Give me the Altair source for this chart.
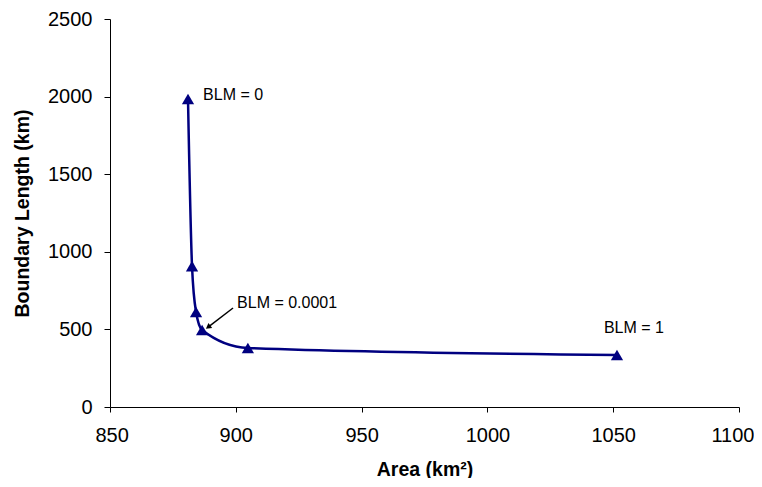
import altair as alt
import pandas as pd

area = [881.0, 882.6, 884.2, 886.6, 904.8, 1051.5]
boundary = [1985, 908, 612, 496, 380, 335]

label_text = ["BLM = 0", "BLM = 0.0001", "BLM = 1"]
label_x = [887.0, 900.5, 1046.3]
label_y = [2010, 670, 509]

arrow_x = [898.9]
arrow_y = [638]
arrow_x2 = [889.0]
arrow_y2 = [515]

df = pd.DataFrame({"area": area, "boundary": boundary})
lab = pd.DataFrame({"t": label_text, "x": label_x, "y": label_y})
arr = pd.DataFrame({"x": arrow_x, "y": arrow_y, "x2": arrow_x2, "y2": arrow_y2})

NAVY = "#000080"
xs = alt.Scale(domain=[850, 1100], nice=False, zero=False)
ys = alt.Scale(domain=[0, 2500], nice=False)

xaxis = alt.Axis(values=[850, 900, 950, 1000, 1050, 1100], grid=False, format="d",
                 title="Area (km²)", labelFontSize=20, titleFontSize=19.5,
                 titleFontWeight="bold", labelPadding=13, tickSize=5,
                 titleY=62, titleBaseline="middle",
                 domainColor="black", tickColor="black",
                 labelColor="black", titleColor="black",
                 labelFlush=True, labelFlushOffset=15)
yaxis = alt.Axis(values=[0, 500, 1000, 1500, 2000, 2500], grid=False, format="d",
                 title="Boundary Length (km)", labelFontSize=20, titleFontSize=19.5,
                 titleFontWeight="bold", labelPadding=12, tickSize=6,
                 titleX=-88, titleY=194, titleAngle=-90, titleBaseline="middle",
                 titleAlign="center",
                 domainColor="black", tickColor="black",
                 labelColor="black", titleColor="black", labelFlush=False)

line = alt.Chart(df).mark_line(color=NAVY, strokeWidth=2.5, interpolate="monotone").encode(
    x=alt.X("area:Q", scale=xs, axis=xaxis),
    y=alt.Y("boundary:Q", scale=ys, axis=yaxis),
    order="area:Q",
)
pts = alt.Chart(df).mark_point(shape="triangle-up", filled=True, color=NAVY,
                               opacity=1, size=150).encode(
    x=alt.X("area:Q", scale=xs), y=alt.Y("boundary:Q", scale=ys))

texts = alt.Chart(lab).mark_text(align="left", baseline="middle", fontSize=16,
                                 color="black").encode(
    x=alt.X("x:Q", scale=xs), y=alt.Y("y:Q", scale=ys), text="t:N")

arrow_line = alt.Chart(arr).mark_rule(color="black", strokeWidth=1.5).encode(
    x=alt.X("x:Q", scale=xs), y=alt.Y("y:Q", scale=ys), x2="x2:Q", y2="y2:Q")
arrow_head = alt.Chart(arr).mark_point(shape="triangle-up", filled=True, color="black",
                                       opacity=1, size=40, angle=233).encode(
    x=alt.X("x2:Q", scale=xs), y=alt.Y("y2:Q", scale=ys))

chart = alt.layer(line, pts, arrow_line, arrow_head, texts).properties(
    width=629, height=388,
    autosize=alt.AutoSizeParams(type="none"),
    padding={"left": 102, "top": 11, "right": 15, "bottom": 71},
).configure_view(stroke=None).configure_axis(labelFont="Liberation Sans",
                                             titleFont="Liberation Sans"
).configure_text(font="Liberation Sans")

chart.save("out.html", embed_options={"renderer": "svg", "actions": False})
